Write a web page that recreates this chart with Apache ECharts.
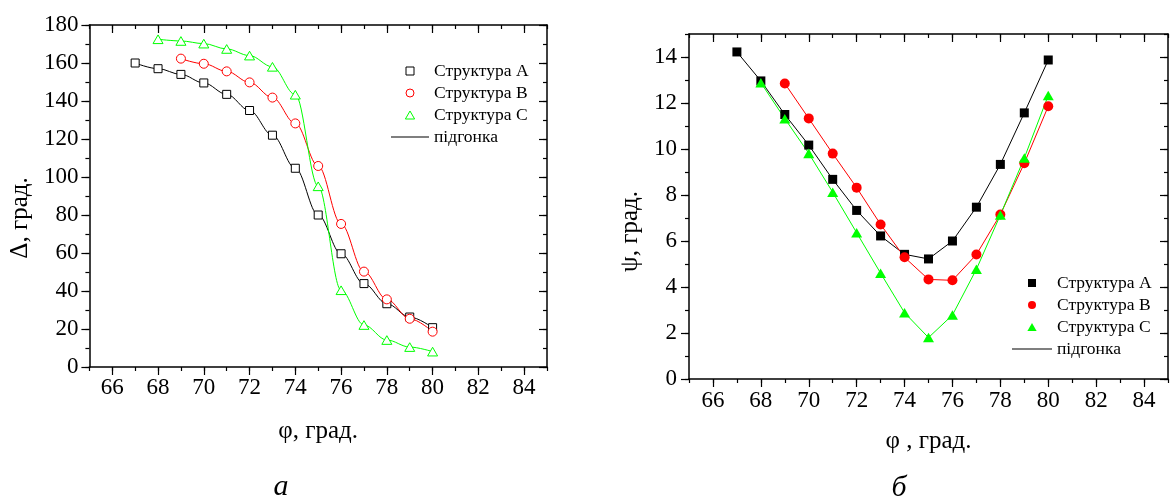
<!DOCTYPE html>
<html>
<head>
<meta charset="utf-8">
<script src="https://cdn.jsdelivr.net/npm/echarts@6/dist/echarts.min.js"></script>
<style>
  html, body { margin: 0; padding: 0; background: #fff; }
  #left { position: absolute; left: 0; top: 0; width: 590px; height: 499px; }
  #right { position: absolute; left: 590px; top: 0; width: 581px; height: 499px; }
</style>
</head>
<body>
<div id="left"></div>
<div id="right"></div>
<script>
// ---- data ----
const phiA = [67, 68, 69, 70, 71, 72, 73, 74, 75, 76, 77, 78, 79, 80];
const phiB = [69, 70, 71, 72, 73, 74, 75, 76, 77, 78, 79, 80];
const phiC = [68, 69, 70, 71, 72, 73, 74, 75, 76, 77, 78, 79, 80];

const deltaA = [160, 157, 154, 149.5, 143.5, 135, 122, 104.6, 80, 59.6, 43.9, 33.3, 26.3, 20.7];
const deltaB = [162.3, 159.6, 155.6, 149.8, 141.8, 128.2, 105.8, 75.3, 50.2, 35.6, 25.4, 18.6];
const deltaC = [172.5, 171.6, 170.2, 167.4, 163.9, 158, 143.3, 95.1, 40.4, 22.1, 14.2, 10.5, 8.1];

const psiA = [14.22, 12.96, 11.5, 10.17, 8.68, 7.33, 6.22, 5.42, 5.22, 6.0, 7.47, 9.33, 11.57, 13.87];
const psiB = [12.85, 11.33, 9.8, 8.32, 6.72, 5.29, 4.33, 4.29, 5.41, 7.15, 9.38, 11.86];
const psiC = [12.88, 11.32, 9.81, 8.12, 6.36, 4.6, 2.88, 1.8, 2.78, 4.77, 7.13, 9.61, 12.33];

const phiTicks = [66, 68, 70, 72, 74, 76, 78, 80, 82, 84];
const deltaTicks = [0, 20, 40, 60, 80, 100, 120, 140, 160, 180];
const psiTicks = [0, 2, 4, 6, 8, 10, 12, 14];

const seriesNames = ['Структура A', 'Структура B', 'Структура C'];
const fitName = 'підгонка';

// ---- styling helpers ----
const FONT = 'Liberation Serif';
const SQUARE = 'path://M0 0H10V10H0Z';
const TRIANGLE = 'path://M5 0L10 8.66L0 8.66Z';

function pairs(xs, ys) { return xs.map((x, i) => [x, ys[i]]); }

function axisSet(isX, min, max, step, ticks, name, nameGap, nameExtra, labelMargin) {
  const pos = isX ? ['bottom', 'top'] : ['left', 'right'];
  const line = { color: '#000', width: 1.5 };
  const tickLine = { color: '#000', width: 1.2 };
  const base = { type: 'value', min: min, max: max, interval: step, splitLine: { show: false }, silent: true };
  return [
    Object.assign({}, base, {
      position: pos[0],
      axisLine: { show: true, onZero: false, lineStyle: line },
      axisTick: { show: true, length: 4, lineStyle: tickLine },
      axisLabel: {
        show: true, margin: labelMargin, color: '#000', fontFamily: FONT, fontSize: 23,
        formatter: v => ticks.includes(v) ? String(v) : ''
      },
      name: name, nameLocation: 'middle', nameGap: nameGap,
      nameRotate: isX ? 0 : 90,
      nameTextStyle: Object.assign({ color: '#000', fontFamily: FONT, fontSize: 25 }, nameExtra || {})
    }),
    Object.assign({}, base, {
      position: pos[0],
      axisLine: { show: false, onZero: false },
      axisTick: { show: true, length: 8, customValues: ticks, lineStyle: tickLine },
      axisLabel: { show: false }
    }),
    Object.assign({}, base, {
      position: pos[1],
      axisLine: { show: true, onZero: false, lineStyle: line },
      axisTick: { show: true, inside: true, length: 4, lineStyle: tickLine },
      axisLabel: { show: false }
    }),
    Object.assign({}, base, {
      position: pos[1],
      axisLine: { show: false, onZero: false },
      axisTick: { show: true, inside: true, length: 8, customValues: ticks, lineStyle: tickLine },
      axisLabel: { show: false }
    })
  ];
}

function legendFor(left, top, itemWidth) {
  return {
    orient: 'vertical', left: left, top: top, padding: 0,
    itemWidth: itemWidth, itemHeight: 8, itemGap: 4,
    selectedMode: false,
    data: seriesNames.concat([{
      name: fitName,
      icon: 'path://M0 0H' + itemWidth + 'V1H0Z',
      itemStyle: { borderWidth: 0 }
    }]),
    textStyle: { color: '#000', fontFamily: FONT, fontSize: 17.5 },
    itemStyle: { borderWidth: 1 },
    lineStyle: { width: 1 }
  };
}

function lineSeries(xs, ys, color, smooth) {
  return {
    type: 'line', name: fitName, data: pairs(xs, ys),
    symbol: 'none', smooth: smooth ? 0.35 : false, smoothMonotone: smooth ? 'x' : undefined,
    lineStyle: { color: color, width: 1 }, itemStyle: { color: color },
    xAxisIndex: 0, yAxisIndex: 0, z: 2, silent: true
  };
}

function markerSeries(name, xs, ys, symbol, size, fill, stroke) {
  return {
    type: 'scatter', name: name, data: pairs(xs, ys),
    symbol: symbol, symbolSize: size, symbolKeepAspect: true,
    itemStyle: { color: fill, borderColor: stroke, borderWidth: stroke ? 1 : 0, opacity: 1 },
    xAxisIndex: 0, yAxisIndex: 0, z: 3, silent: true
  };
}

// ---- left chart (а) ----
const leftChart = echarts.init(document.getElementById('left'), null, { renderer: 'canvas' });
leftChart.setOption({
  animation: false,
  backgroundColor: '#fff',
  grid: { left: 89, right: 43, top: 25, bottom: 132, containLabel: false },
  xAxis: axisSet(true, 65, 85, 1, phiTicks, 'φ, град.', 52, null, 9),
  yAxis: axisSet(false, 0, 180, 10, deltaTicks, 'Δ, град.', 56, { padding: [0, 44, 0, 0] }, 11),
  legend: legendFor(391, 62, 38),
  graphic: [{
    type: 'text', x: 281, y: 487,
    style: { text: 'а', font: 'italic 30px "Liberation Serif"', fill: '#000', align: 'center', verticalAlign: 'middle' }
  }],
  series: [
    lineSeries(phiA, deltaA, '#000000', true),
    lineSeries(phiB, deltaB, '#ff0000', true),
    lineSeries(phiC, deltaC, '#00ff00', true),
    markerSeries(seriesNames[0], phiA, deltaA, SQUARE, 8, '#ffffff', '#000000'),
    markerSeries(seriesNames[1], phiB, deltaB, 'circle', 9, '#ffffff', '#ff0000'),
    markerSeries(seriesNames[2], phiC, deltaC, TRIANGLE, 10, '#ffffff', '#00ff00')
  ]
});

// ---- right chart (б) ----
const rightChart = echarts.init(document.getElementById('right'), null, { renderer: 'canvas' });
rightChart.setOption({
  animation: false,
  backgroundColor: '#fff',
  grid: { left: 99, right: -6, top: 34, bottom: 120, containLabel: false },
  xAxis: axisSet(true, 65, 85, 1, phiTicks, 'φ , град.', 50, null, 10),
  yAxis: axisSet(false, 0, 15, 1, psiTicks, 'ψ, град.', 36, { padding: [0, 50, 0, 0] }, 12),
  legend: legendFor(422, 274, 40),
  graphic: [{
    type: 'text', x: 309, y: 488,
    style: { text: 'б', font: 'italic 30px "Liberation Serif"', fill: '#000', align: 'center', verticalAlign: 'middle' }
  }],
  series: [
    lineSeries(phiA, psiA, '#000000', false),
    lineSeries(phiB, psiB, '#ff0000', false),
    lineSeries(phiC, psiC, '#00ff00', false),
    markerSeries(seriesNames[0], phiA, psiA, SQUARE, 9, '#000000', null),
    markerSeries(seriesNames[1], phiB, psiB, 'circle', 10, '#ff0000', null),
    markerSeries(seriesNames[2], phiC, psiC, TRIANGLE, 11, '#00ff00', null)
  ]
});
</script>
</body>
</html>
